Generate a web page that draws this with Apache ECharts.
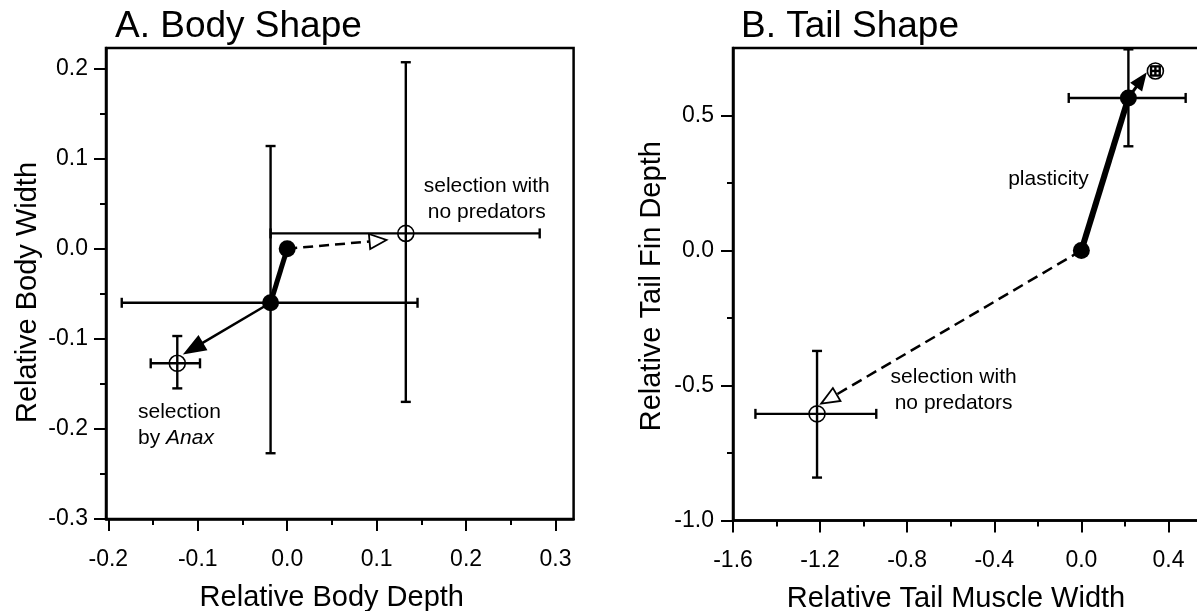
<!DOCTYPE html>
<html><head><meta charset="utf-8">
<script src="https://cdn.jsdelivr.net/npm/echarts@6/dist/echarts.min.js"></script>
<style>html,body{margin:0;padding:0;background:#fff}#c{width:1197px;height:611px}</style>
</head><body><div id="c"></div>
<script>
// ---------- Panel A: Body shape ----------
const bodyFilled = [[0.0, 0.0], [-0.0186, -0.060]];
const bodyOpen = [[-0.1229, -0.1272], [0.1326, 0.017]];
// error bars: [x, y, xLow, xHigh, yLow, yHigh]
const bodyErr = [
  [-0.0186, -0.060, -0.185, 0.1457, -0.227, 0.114],
  [-0.1229, -0.1272, -0.1526, -0.0975, -0.155, -0.0969],
  [0.1326, 0.017, -0.0186, 0.2823, -0.170, 0.207]
];
const bodyPlasticity = [[0.0, 0.0], [-0.0186, -0.060]];
// arrows: [xStart, yStart, xTip, yTip]
const bodyAnaxArrow = [[-0.0186, -0.060, -0.1143, -0.116]];
const bodyNoPredArrow = [[0.0, 0.0, 0.111, 0.0097]];
const bodyXTicks = [-0.2, -0.1, 0.0, 0.1, 0.2, 0.3];
const bodyXMinor = [-0.15, -0.05, 0.05, 0.15, 0.25];
const bodyYTicks = [-0.3, -0.2, -0.1, 0.0, 0.1, 0.2];
const bodyYMinor = [-0.25, -0.15, -0.05, 0.05, 0.15];
const bodyNotes = [[0.2231, 0.0546], [-0.1668, -0.196]];
const bodyNoteText = ['selection with\nno predators', 'selection\nby {i|Anax}'];

// ---------- Panel B: Tail shape ----------
const tailFilled = [[0.0, 0.0], [0.216, 0.565]];
const tailOpen = [[-1.214, -0.605], [0.34, 0.665]];
const tailErr = [
  [0.216, 0.565, -0.058, 0.479, 0.386, 0.745],
  [-1.214, -0.605, -1.497, -0.942, -0.841, -0.372],
  [0.34, 0.665, 0.32, 0.36, 0.648, 0.682]
];
const tailPlasticity = [[0.0, 0.0], [0.216, 0.565]];
const tailSmallArrow = [[0.216, 0.565, 0.294, 0.653]];
const tailNoPredArrow = [[0.0, 0.0, -1.195, -0.567]];
const tailXTicks = [-1.6, -1.2, -0.8, -0.4, 0.0, 0.4];
const tailXMinor = [-1.4, -1.0, -0.6, -0.2, 0.2];
const tailYTicks = [-1.0, -0.5, 0.0, 0.5];
const tailYMinor = [-0.75, -0.25, 0.25];
const tailNotes = [[0.0335, 0.264], [-0.5866, -0.517]];
const tailNoteText = ['plasticity', 'selection with\nno predators'];

const FONT = 'Liberation Sans, Arial, sans-serif';
const BLACK = '#000';

function fmt(v) { return Number(v).toFixed(1); }

function mainAxis(gridIndex, min, max, ticks, name, isX, nameGap, labelMargin, namePadding) {
  return {
    type: 'value', gridIndex, min, max,
    position: isX ? 'bottom' : 'left',
    axisLine: { show: true, onZero: false, lineStyle: { color: BLACK, width: 2.5 } },
    axisTick: { show: true, inside: false, customValues: ticks, length: 12, lineStyle: { color: BLACK, width: 2 } },
    axisLabel: { show: true, customValues: ticks, formatter: fmt, fontSize: 23, color: BLACK, fontFamily: FONT, margin: labelMargin },
    splitLine: { show: false },
    name, nameLocation: 'middle', nameGap,
    nameTextStyle: { fontSize: 29, color: BLACK, fontFamily: FONT, padding: namePadding }
  };
}
function minorAxis(gridIndex, min, max, ticks, isX) {
  return {
    type: 'value', gridIndex, min, max, offset: 0,
    position: isX ? 'bottom' : 'left',
    axisLine: { show: false, onZero: false },
    axisTick: { show: true, inside: false, customValues: ticks, length: 6, lineStyle: { color: BLACK, width: 2 } },
    axisLabel: { show: false },
    splitLine: { show: false }
  };
}

function errRender(params, api) {
  const x = api.value(0), y = api.value(1);
  const xl = api.coord([api.value(2), y]);
  const xh = api.coord([api.value(3), y]);
  const yl = api.coord([x, api.value(4)]);
  const yh = api.coord([x, api.value(5)]);
  const cap = 5;
  const st = { stroke: BLACK, lineWidth: 2.4 };
  const L = (a, b, c, d) => ({ type: 'line', shape: { x1: a, y1: b, x2: c, y2: d }, style: st });
  return { type: 'group', children: [
    L(xl[0], xl[1], xh[0], xh[1]),
    L(xl[0], xl[1] - cap, xl[0], xl[1] + cap),
    L(xh[0], xh[1] - cap, xh[0], xh[1] + cap),
    L(yl[0], yl[1], yh[0], yh[1]),
    L(yl[0] - cap, yl[1], yl[0] + cap, yl[1]),
    L(yh[0] - cap, yh[1], yh[0] + cap, yh[1])
  ]};
}

function arrowRender(o) {
  return function (params, api) {
    const p1 = api.coord([api.value(0), api.value(1)]);
    const p2 = api.coord([api.value(2), api.value(3)]);
    const dx = p2[0] - p1[0], dy = p2[1] - p1[1];
    const len = Math.hypot(dx, dy) || 1;
    const ux = dx / len, uy = dy / len, nx = -uy, ny = ux;
    const bx = p2[0] - ux * o.headLen, by = p2[1] - uy * o.headLen;
    const hw = o.headWidth / 2;
    return { type: 'group', children: [
      { type: 'line', shape: { x1: p1[0], y1: p1[1], x2: bx, y2: by },
        style: { stroke: BLACK, lineWidth: o.width, lineDash: o.dash || null } },
      { type: 'polygon', shape: { points: [[p2[0], p2[1]], [bx + nx * hw, by + ny * hw], [bx - nx * hw, by - ny * hw]] },
        style: { fill: o.fill, stroke: BLACK, lineWidth: 1.8 } }
    ]};
  };
}

function noteRender(texts, aligns) {
  return function (params, api) {
    const p = api.coord([api.value(0), api.value(1)]);
    return { type: 'text', x: p[0], y: p[1], style: {
      text: texts[params.dataIndex], fontSize: 21, fontFamily: FONT, fill: BLACK,
      align: aligns[params.dataIndex], verticalAlign: 'middle', lineHeight: 26,
      rich: { i: { fontStyle: 'italic', fontSize: 21, fontFamily: FONT, fill: BLACK, lineHeight: 26 } }
    }};
  };
}

function panelSeries(xi, yi, filled, open, err, plast, arrowA, arrowAOpts, arrowB, arrowBOpts, notes, noteText, noteAlign, plastWidth) {
  return [
    { type: 'custom', xAxisIndex: xi, yAxisIndex: yi, z: 2, data: err, renderItem: errRender, silent: true },
    { type: 'custom', xAxisIndex: xi, yAxisIndex: yi, z: 3, data: arrowA, renderItem: arrowRender(arrowAOpts), silent: true },
    { type: 'custom', xAxisIndex: xi, yAxisIndex: yi, z: 3, data: arrowB, renderItem: arrowRender(arrowBOpts), silent: true },
    { type: 'line', xAxisIndex: xi, yAxisIndex: yi, z: 4, data: plast, symbol: 'none',
      lineStyle: { color: BLACK, width: plastWidth }, silent: true },
    { type: 'scatter', xAxisIndex: xi, yAxisIndex: yi, z: 5, data: filled, symbol: 'circle', symbolSize: 17,
      itemStyle: { color: BLACK, opacity: 1 }, silent: true },
    { type: 'scatter', xAxisIndex: xi, yAxisIndex: yi, z: 5, data: open, symbol: 'circle', symbolSize: 16,
      itemStyle: { color: 'rgba(0,0,0,0)', borderColor: BLACK, borderWidth: 1.6, opacity: 1 }, silent: true },
    { type: 'custom', xAxisIndex: xi, yAxisIndex: yi, z: 6, data: notes, renderItem: noteRender(noteText, noteAlign), silent: true }
  ];
}

const chart = echarts.init(document.getElementById('c'), null, { renderer: 'canvas' });
const A = { xmin: -0.2026, xmax: 0.3202, ymin: -0.3, ymax: 0.2228 };
const B = { xmin: -1.6, xmax: 0.6, ymin: -1.0, ymax: 0.75 };
chart.setOption({
  animation: false,
  backgroundColor: '#fff',
  title: [
    { text: 'A. Body Shape', left: 115, top: 8, padding: 0, textStyle: { fontSize: 37, fontWeight: 'normal', color: BLACK, fontFamily: FONT } },
    { text: 'B. Tail Shape', left: 741, top: 8, padding: 0, textStyle: { fontSize: 37, fontWeight: 'normal', color: BLACK, fontFamily: FONT } }
  ],
  grid: [
    { left: 106, top: 48, width: 467.6, height: 471, show: true, borderColor: BLACK, borderWidth: 2.5,
      backgroundColor: 'transparent', outerBoundsMode: 'none', containLabel: false },
    { left: 733, top: 48, width: 479, height: 472.5, show: true, borderColor: BLACK, borderWidth: 2.5,
      backgroundColor: 'transparent', outerBoundsMode: 'none', containLabel: false }
  ],
  xAxis: [
    mainAxis(0, A.xmin, A.xmax, bodyXTicks, 'Relative Body Depth', true, 64, 29, [0, 16, 0, 0]),
    minorAxis(0, A.xmin, A.xmax, bodyXMinor, true),
    mainAxis(1, B.xmin, B.xmax, tailXTicks, 'Relative Tail Muscle Width', true, 64, 29, [0, 33, 0, 0]),
    minorAxis(1, B.xmin, B.xmax, tailXMinor, true)
  ],
  yAxis: [
    mainAxis(0, A.ymin, A.ymax, bodyYTicks, 'Relative Body Width', false, 64, 18, [0, 18, 0, 0]),
    minorAxis(0, A.ymin, A.ymax, bodyYMinor, false),
    mainAxis(1, B.ymin, B.ymax, tailYTicks, 'Relative Tail Fin Depth', false, 67, 19, [0, 4, 0, 0]),
    minorAxis(1, B.ymin, B.ymax, tailYMinor, false)
  ],
  series: [].concat(
    panelSeries(0, 0, bodyFilled, bodyOpen, bodyErr, bodyPlasticity,
      bodyAnaxArrow, { width: 2.5, headLen: 20, headWidth: 15, fill: BLACK },
      bodyNoPredArrow, { width: 2.5, headLen: 17, headWidth: 15, fill: '#fff', dash: [10, 6] },
      bodyNotes, bodyNoteText, ['center', 'left'], 5),
    panelSeries(2, 2, tailFilled, tailOpen, tailErr, tailPlasticity,
      tailSmallArrow, { width: 3, headLen: 15, headWidth: 12, fill: BLACK },
      tailNoPredArrow, { width: 2.5, headLen: 18, headWidth: 15, fill: '#fff', dash: [11, 6] },
      tailNotes, tailNoteText, ['right', 'center'], 6)
  )
});
</script>
</body></html>
